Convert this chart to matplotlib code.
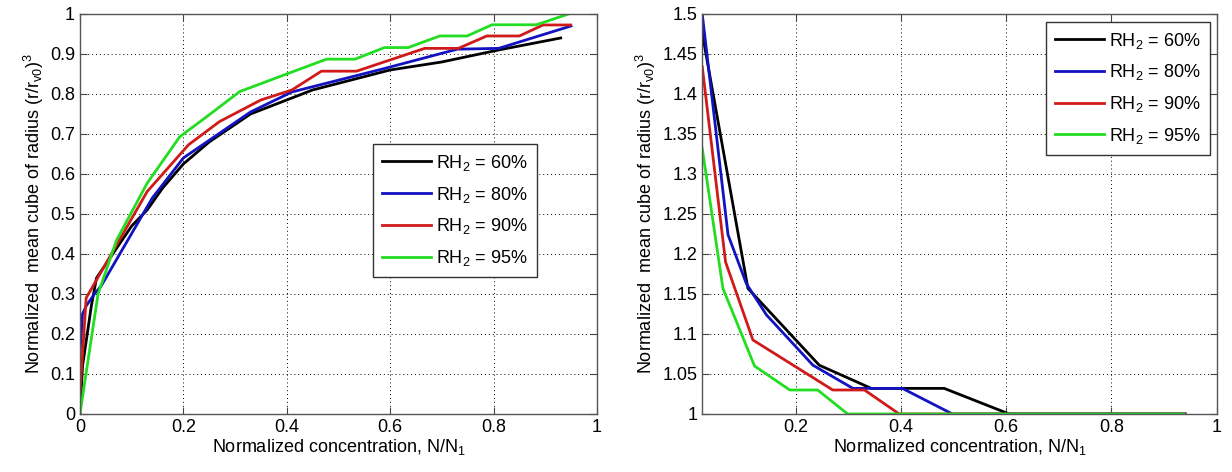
import numpy as np
import matplotlib
matplotlib.use('Agg')
import matplotlib.pyplot as plt
from matplotlib.ticker import FormatStrFormatter

plt.rcParams['font.family'] = ['Liberation Sans', 'DejaVu Sans']
plt.rcParams['mathtext.default'] = 'regular'

LABELS = ['RH$_2$ = 60%', 'RH$_2$ = 80%', 'RH$_2$ = 90%', 'RH$_2$ = 95%']
COLORS = ['#000000', '#1212C0', '#D01A1A', '#22DD22']

# left panel: growth curves
left_x = [
    [0, 0.005, 0.022, 0.032, 0.10, 0.13, 0.16, 0.20, 0.25, 0.33, 0.45, 0.60, 0.70,
     0.81, 0.93],
    [0, 0.005, 0.012, 0.028, 0.041, 0.14, 0.20, 0.33, 0.41, 0.59, 0.73, 0.81, 0.95],
    [0, 0.012, 0.032, 0.13, 0.21, 0.27, 0.35, 0.41, 0.467, 0.535, 0.667, 0.732,
     0.787, 0.85, 0.896, 0.949],
    [0, 0.035, 0.071, 0.13, 0.193, 0.245, 0.309, 0.40, 0.477, 0.532, 0.589, 0.635,
     0.696, 0.749, 0.797, 0.883, 0.945],
]
left_y = [
    [0, 0.12, 0.27, 0.34, 0.47, 0.51, 0.565, 0.625, 0.68, 0.75, 0.81, 0.86, 0.88,
     0.91, 0.94],
    [0.15, 0.25, 0.27, 0.30, 0.32, 0.54, 0.64, 0.755, 0.805, 0.864, 0.912, 0.914, 0.97],
    [0.05, 0.29, 0.335, 0.556, 0.673, 0.731, 0.785, 0.81, 0.857, 0.857, 0.914, 0.914,
     0.945, 0.945, 0.9725, 0.9725],
    [0, 0.30, 0.435, 0.577, 0.693, 0.743, 0.806, 0.85, 0.887, 0.887, 0.916, 0.916,
     0.945, 0.945, 0.973, 0.973, 1.0],
]

# right panel: decay curves
right_x = [
    [0.0227, 0.1095, 0.245, 0.344, 0.4825, 0.606, 0.94],
    [0.0227, 0.0717, 0.1065, 0.1445, 0.233, 0.309, 0.403, 0.498, 0.94],
    [0.0227, 0.067, 0.119, 0.2707, 0.331, 0.397, 0.94],
    [0.0227, 0.062, 0.122, 0.189, 0.242, 0.299, 0.938],
]
right_y = [
    [1.476, 1.157, 1.061, 1.032, 1.032, 1.0, 1.0],
    [1.5, 1.224, 1.163, 1.124, 1.061, 1.032, 1.032, 1.0, 1.0],
    [1.434, 1.19, 1.0925, 1.03, 1.03, 1.0, 1.0],
    [1.332, 1.157, 1.06, 1.03, 1.03, 1.0, 1.0],
]

XLABEL = 'Normalized concentration, N/N$_1$'
YLABEL = 'Normalized  mean cube of radius (r/r$_{v0}$)$^3$'
FS = 13


def style_axes(ax):
    ax.grid(True, color='black', linestyle=(0, (1, 3)), linewidth=0.7)
    ax.tick_params(direction='in', top=True, right=True, labelsize=FS,
                   length=5, color='#444444')
    for sp in ax.spines.values():
        sp.set_color('#555555')
        sp.set_linewidth(1.0)
    ax.xaxis.set_major_formatter(FormatStrFormatter('%g'))
    ax.yaxis.set_major_formatter(FormatStrFormatter('%g'))
    ax.set_xlabel(XLABEL, fontsize=FS, labelpad=1)
    ax.set_ylabel(YLABEL, fontsize=FS, labelpad=3)


def add_legend(ax, **kw):
    leg = ax.legend(fontsize=FS, fancybox=False, edgecolor='#333333',
                    framealpha=1, handlelength=2.7, labelspacing=0.65,
                    borderpad=0.5, handletextpad=0.3, **kw)
    leg.get_frame().set_linewidth(1.0)
    return leg


fig = plt.figure(figsize=(12.32, 4.72), dpi=100)
ax1 = fig.add_axes([0.0649, 0.1229, 0.4196, 0.8475])
ax2 = fig.add_axes([0.5700, 0.1229, 0.4175, 0.8475])

for xs, ys, c, lab in zip(left_x, left_y, COLORS, LABELS):
    ax1.plot(xs, ys, color=c, linewidth=2, label=lab)
ax1.set_xlim(0, 1)
ax1.set_ylim(0, 1)
ax1.set_xticks(np.arange(0, 1.01, 0.2))
ax1.set_yticks(np.arange(0, 1.01, 0.1))
style_axes(ax1)
add_legend(ax1, loc='center', bbox_to_anchor=(0.725, 0.509))

for xs, ys, c, lab in zip(right_x, right_y, COLORS, LABELS):
    ax2.plot(xs, ys, color=c, linewidth=2, label=lab)
ax2.set_xlim(0.0227, 1)
ax2.set_ylim(1, 1.5)
ax2.set_xticks(np.arange(0.2, 1.01, 0.2))
ax2.set_yticks(np.arange(1, 1.501, 0.05))
style_axes(ax2)
add_legend(ax2, loc='upper right', bbox_to_anchor=(0.987, 0.981), borderaxespad=0)

fig.savefig('out.png', dpi=100)
